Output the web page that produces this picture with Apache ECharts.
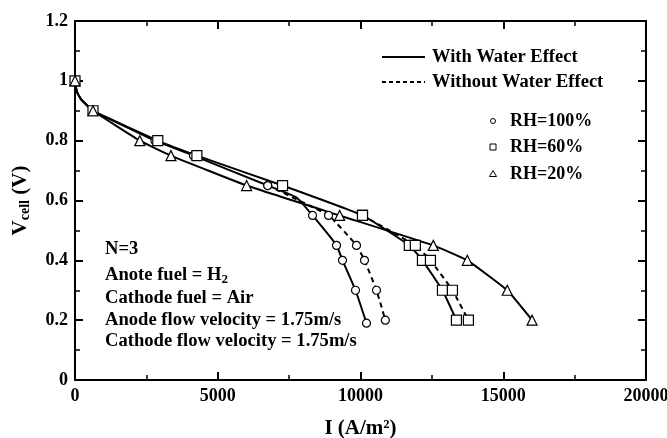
<!DOCTYPE html>
<html>
<head>
<meta charset="utf-8">
<script src="https://cdn.jsdelivr.net/npm/echarts@6/dist/echarts.min.js"></script>
<style>html,body{margin:0;padding:0;background:#fff;}#c{width:667px;height:438px;}</style>
</head>
<body>
<div id="c"></div>
<script>
// ---- data (current density I in A/m2, cell voltage in V) ----
const xTicks = [0, 5000, 10000, 15000, 20000];
const yTicks = [0, 0.2, 0.4, 0.6, 0.8, 1, 1.2];

// marked points
const rh100WithI = [0, 630, 2800, 4150, 6750, 8320, 9160, 9370, 9825, 10210];
const rh100WithV = [1.0, 0.9, 0.8, 0.75, 0.65, 0.55, 0.45, 0.4, 0.3, 0.19];
const rh100WithoutI = [6750, 8880, 9860, 10140, 10560, 10870];
const rh100WithoutV = [0.65, 0.55, 0.45, 0.4, 0.3, 0.2];
const rh60WithI = [0, 630, 2900, 4270, 7270, 10070, 11710, 12170, 12870, 13360];
const rh60WithV = [1.0, 0.9, 0.8, 0.75, 0.65, 0.55, 0.45, 0.4, 0.3, 0.2];
const rh60WithoutI = [10070, 11920, 12450, 13220, 13780];
const rh60WithoutV = [0.55, 0.45, 0.4, 0.3, 0.2];
const rh20WithI = [0, 630, 2270, 3360, 6010, 9270, 12550, 13740, 15140, 16010];
const rh20WithV = [1.0, 0.9, 0.8, 0.75, 0.65, 0.55, 0.45, 0.4, 0.3, 0.2];

// unmarked points on the curves (shape)
const topBendI = [60, 200];
const topBendV = [0.965, 0.94];
const rh100BendI = [7760];
const rh100BendV = [0.61];

function marked(I, V) { return I.map((x, i) => [x, V[i]]); }
function curve(I, V, bI, bV) {
  const pts = marked(I, V).map(p => ({ value: p }));
  bI.forEach((x, i) => pts.push({ value: [x, bV[i]], symbol: 'none' }));
  pts.sort((a, b) => a.value[0] - b.value[0]);
  return pts;
}

const font = 'Liberation Serif';
const chart = echarts.init(document.getElementById('c'), null, { renderer: 'canvas' });

function lineSeries(name, data, symbol, size, dashed) {
  return {
    name: name, type: 'line', data: data, symbol: symbol, symbolSize: size,
    smooth: 0.12,
    lineStyle: { color: '#000', width: 2, type: dashed ? [5, 4] : 'solid' },
    itemStyle: { color: '#fff', borderColor: '#000', borderWidth: 1.2 },
    emphasis: { disabled: true }, animation: false, silent: true
  };
}

const axisCommon = {
  type: 'value',
  axisLine: { show: true, onZero: false, lineStyle: { color: '#000', width: 2 } },
  axisTick: { show: true, inside: true, length: 8, lineStyle: { color: '#000', width: 2 } },
  minorTick: { show: true, splitNumber: 2, length: 5, lineStyle: { color: '#000', width: 1.5 } },
  splitLine: { show: false }
};

chart.setOption({
  animation: false,
  grid: { left: 75, right: 21, top: 21, bottom: 58, containLabel: false, outerBoundsMode: 'none' },
  xAxis: [
    Object.assign({}, axisCommon, {
      min: xTicks[0], max: xTicks[xTicks.length - 1], interval: 5000, position: 'bottom',
      axisLabel: { color: '#000', fontFamily: font, fontWeight: 'bold', fontSize: 18, margin: 7, formatter: v => String(v) },
      name: 'I (A/m²)', nameLocation: 'middle', nameGap: 38,
      nameTextStyle: { color: '#000', fontFamily: font, fontWeight: 'bold', fontSize: 21 }
    }),
    Object.assign({}, axisCommon, {
      min: xTicks[0], max: xTicks[xTicks.length - 1], interval: 5000, position: 'top',
      axisLabel: { show: false }
    })
  ],
  yAxis: [
    Object.assign({}, axisCommon, {
      min: yTicks[0], max: yTicks[yTicks.length - 1], interval: 0.2, position: 'left',
      axisLabel: { color: '#000', fontFamily: font, fontWeight: 'bold', fontSize: 18, margin: 7 },
      name: '{v|V}{s|cell}{v| (V)}', nameLocation: 'middle', nameGap: 43,
      nameTextStyle: {
        color: '#000', fontFamily: font, fontWeight: 'bold', fontSize: 20,
        rich: {
          v: { fontFamily: font, fontWeight: 'bold', fontSize: 21, color: '#000' },
          s: { fontFamily: font, fontWeight: 'bold', fontSize: 14, color: '#000', verticalAlign: 'bottom', padding: [8, 0, 0, 0] }
        }
      }
    }),
    Object.assign({}, axisCommon, {
      min: yTicks[0], max: yTicks[yTicks.length - 1], interval: 0.2, position: 'right',
      axisLabel: { show: false }
    })
  ],
  series: [
    lineSeries('RH=100% with', curve(rh100WithI, rh100WithV, topBendI.concat(rh100BendI), topBendV.concat(rh100BendV)), 'circle', 8, false),
    lineSeries('RH=100% without', curve(rh100WithoutI, rh100WithoutV, [], []), 'circle', 8, true),
    lineSeries('RH=60% with', curve(rh60WithI, rh60WithV, topBendI, topBendV), 'rect', 10, false),
    lineSeries('RH=60% without', curve(rh60WithoutI, rh60WithoutV, [], []), 'rect', 10, true),
    lineSeries('RH=20% with', curve(rh20WithI, rh20WithV, topBendI, topBendV), 'triangle', 10, false)
  ],
  graphic: [
    { type: 'line', shape: { x1: 382, y1: 57, x2: 425, y2: 57 }, style: { stroke: '#000', lineWidth: 2 } },
    { type: 'text', x: 432, y: 57, style: { text: 'With Water Effect', fill: '#000', font: 'bold 18.5px "Liberation Serif"', verticalAlign: 'middle' } },
    { type: 'line', shape: { x1: 382, y1: 82, x2: 425, y2: 82 }, style: { stroke: '#000', lineWidth: 2, lineDash: [4, 3] } },
    { type: 'text', x: 432, y: 82, style: { text: 'Without Water Effect', fill: '#000', font: 'bold 18.5px "Liberation Serif"', verticalAlign: 'middle' } },
    { type: 'circle', shape: { cx: 493, cy: 121, r: 2.5 }, style: { fill: '#fff', stroke: '#000', lineWidth: 1 } },
    { type: 'text', x: 510, y: 121, style: { text: 'RH=100%', fill: '#000', font: 'bold 18px "Liberation Serif"', verticalAlign: 'middle' } },
    { type: 'rect', shape: { x: 490, y: 144, width: 6, height: 6 }, style: { fill: '#fff', stroke: '#000', lineWidth: 1 } },
    { type: 'text', x: 510, y: 147, style: { text: 'RH=60%', fill: '#000', font: 'bold 18px "Liberation Serif"', verticalAlign: 'middle' } },
    { type: 'polygon', shape: { points: [[493, 170.5], [496.5, 176.5], [489.5, 176.5]] }, style: { fill: '#fff', stroke: '#000', lineWidth: 1 } },
    { type: 'text', x: 510, y: 174, style: { text: 'RH=20%', fill: '#000', font: 'bold 18px "Liberation Serif"', verticalAlign: 'middle' } },
    { type: 'text', x: 105, y: 249, style: { text: 'N=3', fill: '#000', font: 'bold 18.6px "Liberation Serif"', verticalAlign: 'middle' } },
    { type: 'text', x: 105, y: 275, style: {
        text: 'Anote fuel = H{sub|2}', fill: '#000', font: 'bold 18.6px "Liberation Serif"', verticalAlign: 'middle',
        rich: { sub: { font: 'bold 13px "Liberation Serif"', fill: '#000', padding: [10, 0, 0, 0] } } } },
    { type: 'text', x: 105, y: 298, style: { text: 'Cathode fuel = Air', fill: '#000', font: 'bold 18.6px "Liberation Serif"', verticalAlign: 'middle' } },
    { type: 'text', x: 105, y: 320, style: { text: 'Anode flow velocity = 1.75m/s', fill: '#000', font: 'bold 18.6px "Liberation Serif"', verticalAlign: 'middle' } },
    { type: 'text', x: 105, y: 341, style: { text: 'Cathode flow velocity = 1.75m/s', fill: '#000', font: 'bold 18.6px "Liberation Serif"', verticalAlign: 'middle' } }
  ]
});
</script>
</body>
</html>
